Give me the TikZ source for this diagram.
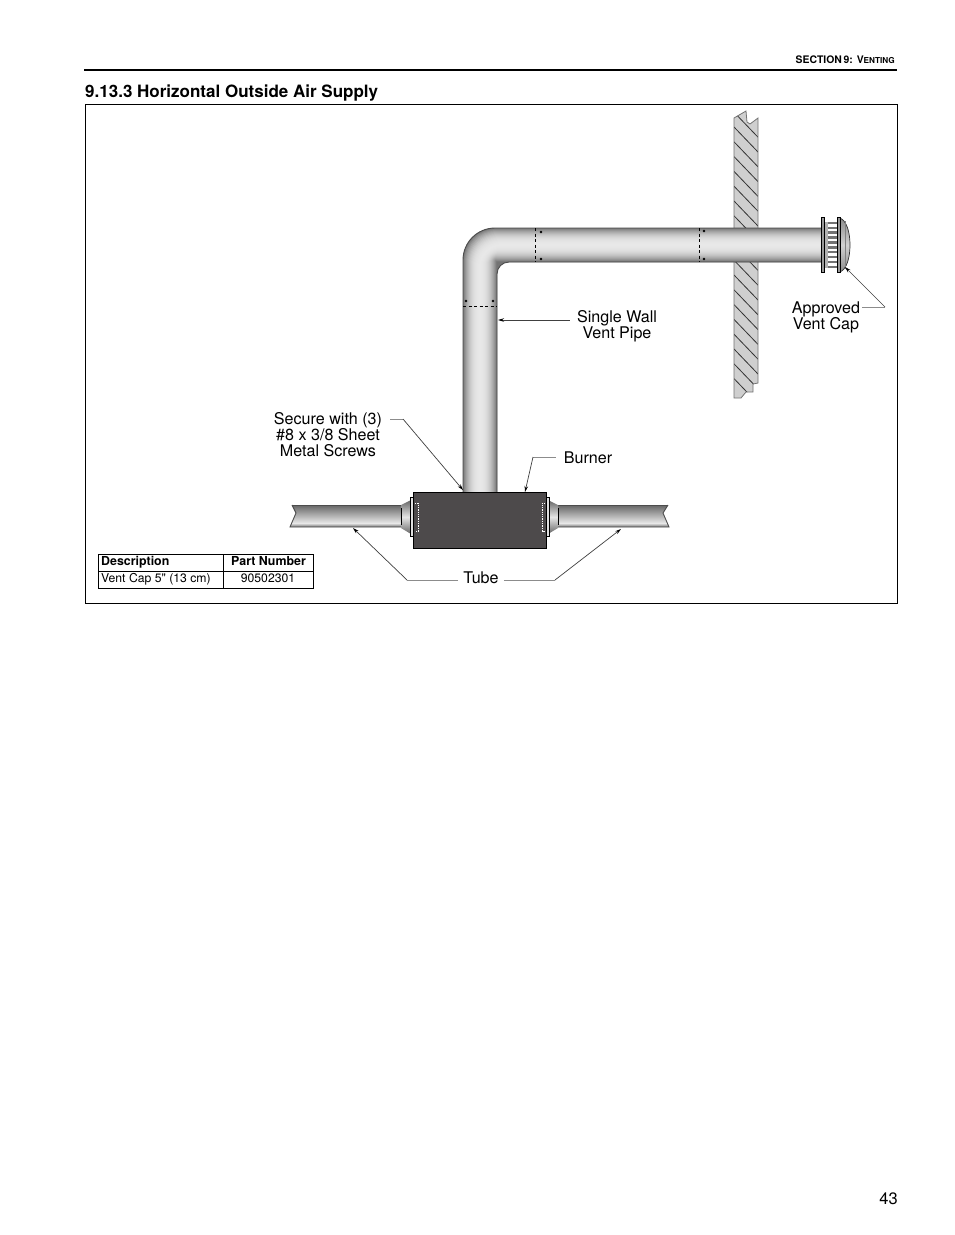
\documentclass[tikz,border=0pt]{standalone}
\usepackage{fontspec}
\setmainfont[Ligatures=TeXOff]{TeX Gyre Heros}
\usetikzlibrary{arrows.meta}
\definecolor{burnerfill}{HTML}{4D4A4B}
\definecolor{wallfill}{HTML}{CFCFCF}
\pgfdeclareverticalshading{tubeshade}{100bp}{color(0bp)=(black!55); color(25bp)=(black!55); color(34bp)=(black!9); color(75bp)=(black!60); color(100bp)=(black!60)}
\tikzset{
  lbl/.style={align=center, inner sep=0pt, font=\fontsize{16.1}{16.2}\selectfont},
  tbl/.style={inner sep=0pt, font=\fontsize{12.2}{13}\selectfont},
  tblb/.style={inner sep=0pt, font=\fontsize{12.4}{13}\bfseries\selectfont},
  leader/.style={line width=.7pt, black!75, -{Stealth[length=6pt,width=3.5pt,black]}},
  stub/.style={line width=.9pt, black!45},
  seam/.style={line width=.7pt, dash pattern=on 3pt off 2.5pt},
  screw/.style={circle, fill, inner sep=0pt, minimum size=2.8pt},
  pipeout/.style={line width=.9pt, black!70},
}
\begin{document}
\begin{tikzpicture}[x=1pt, y=-1pt]
\useasboundingbox (0,0) rectangle (954,1235);
\fill[white] (0,0) rectangle (954,1235);
% header
\draw[line width=2pt] (84,70) -- (897,70);
\node[anchor=base east, inner sep=0pt, font=\fontsize{10.4}{11}\bfseries\selectfont] (sect) at (895,63.5) {SECTION\,9: V{\fontsize{8.2}{9}\selectfont ENTING}};
\node[anchor=base west, inner sep=0pt, font=\fontsize{17}{18}\bfseries\selectfont] (title) at (85,97) {9.13.3 Horizontal Outside Air Supply};
\node[anchor=base east, inner sep=0pt, font=\fontsize{16.5}{17}\selectfont] (pagenum) at (898,1204) {43};
\draw[line width=.9pt] (85,104.5) rectangle (897.5,603.5);
% wall
\begin{scope}
\clip (734,118) -- (746,111) -- (747,122) -- (750,124) -- (758,118) -- (758,383) -- (753,384) -- (753,392) -- (746,392) -- (741,398) -- (734,398) -- cycle;
\fill[wallfill] (730,105) rectangle (762,400);
\foreach \i in {-1,...,17}
  \draw[line width=.8pt, black!80] (734,127+14.8*\i) -- (758,152+14.8*\i);
\end{scope}
\draw[line width=.8pt, black!55] (734,118) -- (746,111) -- (747,122) -- (750,124) -- (758,118) -- (758,383) -- (753,384) -- (753,392) -- (746,392) -- (741,398) -- (734,398) -- cycle;
% pipe
\begin{scope}
\clip (463,492) -- (463,260) arc[start angle=180, end angle=270, radius=32] -- (822,228) -- (822,262) -- (509,262) arc[start angle=270, end angle=180, radius=12] -- (497,492) -- cycle;
\fill[black!55] (455,220) rectangle (825,495);
\foreach \w in {34,32,...,2}{
  \pgfmathsetmacro{\rr}{22-0.2*\w}
  \pgfmathsetmacro{\shade}{9+44*(\w/34)^2.4}
  \draw[line width=\w pt, black!\shade] (480,495) -- (480,245+\rr) arc[start angle=180, end angle=270, radius=\rr] -- (825,245);
}
\end{scope}
\draw[pipeout] (463,492) -- (463,260) arc[start angle=180, end angle=270, radius=32] -- (822,228);
\draw[pipeout] (822,262) -- (509,262) arc[start angle=270, end angle=180, radius=12] -- (497,492);
% seams
\draw[seam] (535,228) -- (535,262);
\draw[seam] (699,228) -- (699,262);
\draw[seam] (463,306) -- (497,306);
\foreach \nm/\px/\py in {sa/541/232, sb/541/259, sc/704/231, sd/704/259, se/466/301, sf/493/301}
  \node[screw] (\nm) at (\px,\py) {};
% vent cap
\path[top color=black!45, bottom color=black!45, middle color=black!18, draw=black!80, line width=.7pt] (840,218) .. controls (847,221) and (850,233) .. (850,245) .. controls (850,257) and (847,269) .. (840,272) -- cycle;
\draw[line width=.6pt, black!50] (845,221) -- (845,269);
\fill[black!55] (824,222) rectangle (838,268);
\fill[black!30] (824,222) rectangle (828,268);
\foreach \ry in {224,...,232}
  \fill[white] (828,{\ry+(\ry-224)*3.9}) rectangle (837,{\ry+(\ry-224)*3.9+2.5});
\foreach \fx in {821,837.5}
  \draw[fill=black!40, line width=.7pt] (\fx,217) rectangle (\fx+3.3,272);
% tubes
\path[shading=tubeshade] (292,505) -- (296,513) -- (290,527) -- (402,527) -- (402,505) -- cycle;
\path[shading=tubeshade] (668,505) -- (663,513) -- (669,527) -- (558,527) -- (558,505) -- cycle;
\draw[pipeout] (292,505) -- (296,513) -- (290,527) -- (402,527);
\draw[pipeout] (292,505) -- (402,505);
\draw[pipeout] (668,505) -- (663,513) -- (669,527) -- (558,527);
\draw[pipeout] (668,505) -- (558,505);
% collars
\path[top color=black!60, bottom color=black!60, middle color=black!10] (401,505) -- (411,500) -- (411,534) -- (401,528) -- cycle;
\path[top color=black!60, bottom color=black!60, middle color=black!10] (558,505) -- (548,500) -- (548,534) -- (558,528) -- cycle;
\draw[line width=.8pt] (401,508) -- (401,525);
\draw[line width=.8pt] (558,508) -- (558,525);
\draw[fill=black!12, line width=.8pt] (410.5,497.5) rectangle (414,536.5);
\draw[fill=black!12, line width=.8pt] (545.5,497.5) rectangle (549,536.5);
% burner
\draw[fill=burnerfill, line width=.8pt] (413.5,492) rectangle (546,548);
\draw[white, line width=.8pt, dash pattern=on 1.3pt off 1pt] (415,503) -- (418,503) -- (418,531) -- (415,531);
\draw[white, line width=.8pt, dash pattern=on 1.3pt off 1pt] (545,503) -- (542,503) -- (542,531) -- (545,531);
% labels
\node[lbl] (ventpipe) at (617,326) {Single Wall\\Vent Pipe};
\node[lbl] (ventcap) at (826,317) {Approved\\Vent Cap};
\node[lbl] (screws) at (328,434.5) {Secure with (3)\\\#8 x 3/8 Sheet\\Metal Screws};
\node[lbl] (burner) at (588,458) {Burner};
\node[lbl] (tube) at (481,578) {Tube};
% leaders
\coordinate (pipetip) at (498,320);
\coordinate (capknee) at (885,307);
\coordinate (captip) at (845,267);
\coordinate (screwknee) at (403,419);
\coordinate (screwtip) at (463,490);
\coordinate (burnerknee) at (533,457);
\coordinate (burnertip) at (525,492);
\coordinate (tubeknee1) at (407,580);
\coordinate (tubetip1) at (353,528);
\coordinate (tubeknee2) at (555,580);
\coordinate (tubetip2) at (621,529);
\draw[leader] (ventpipe.west |- pipetip) ++(-7,0) -- (pipetip);
\draw[stub] (ventcap.east |- capknee) ++(2,0) -- (capknee);
\draw[leader] (capknee) -- (captip);
\draw[stub] (screws.east |- screwknee) ++(8,0) -- (screwknee);
\draw[leader] (screwknee) -- (screwtip);
\draw[stub] (burner.west |- burnerknee) ++(-8,0) -- (burnerknee);
\draw[leader] (burnerknee) -- (burnertip);
\draw[stub] (tube.west |- tubeknee1) ++(-5,0) -- (tubeknee1);
\draw[leader] (tubeknee1) -- (tubetip1);
\draw[stub] (tube.east |- tubeknee2) ++(5,0) -- (tubeknee2);
\draw[leader] (tubeknee2) -- (tubetip2);
% table
\draw[line width=.9pt] (98,554) rectangle (313.5,588.5);
\draw[line width=.9pt] (98,571) -- (313.5,571);
\draw[line width=.9pt] (223.5,554) -- (223.5,588.5);
\node[tblb, anchor=base west] (thdesc) at (101,565) {Description};
\node[tblb, anchor=base] (thpart) at (268.5,565) {Part Number};
\node[tbl, anchor=base west] (tddesc) at (101,582) {Vent Cap 5" (13 cm)};
\node[tbl, anchor=base] (tdpart) at (268,582) {90502301};
\end{tikzpicture}
\end{document}
